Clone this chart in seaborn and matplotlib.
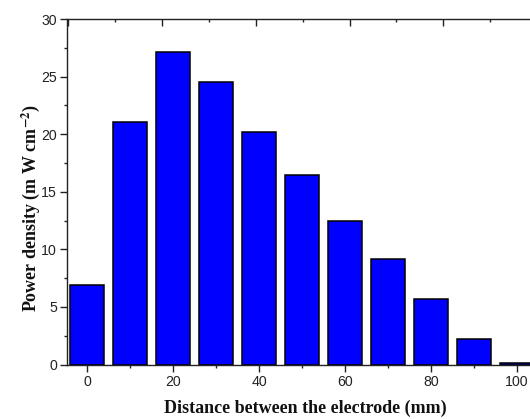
import matplotlib
matplotlib.use("Agg")
import matplotlib.pyplot as plt
from matplotlib.ticker import MultipleLocator
import seaborn as sns
import pandas as pd

# Power density measured at each electrode spacing
distance_mm = [0, 10, 20, 30, 40, 50, 60, 70, 80, 90, 100]
power_density = [6.9, 21.1, 27.1, 24.5, 20.2, 16.5, 12.5, 9.2, 5.7, 2.2, 0.15]

df = pd.DataFrame({"distance": distance_mm, "power": power_density})

sns.set_theme(style="ticks")
plt.rcParams["font.family"] = ["Liberation Sans", "DejaVu Sans"]
plt.rcParams["mathtext.fontset"] = "stix"

fig = plt.figure(figsize=(5.30, 4.19), dpi=100)
ax = fig.add_axes([0.1258, 0.1300, 0.890, 0.8246])

sns.barplot(data=df, x="distance", y="power", native_scale=True,
            color="#0000ff", saturation=1, edgecolor="black",
            linewidth=1.1, width=0.8, ax=ax)

ax.set_xlim(-4.8, 105)
ax.set_ylim(0, 30)

ax.xaxis.set_major_locator(MultipleLocator(20))
ax.xaxis.set_minor_locator(MultipleLocator(10))
ax.yaxis.set_major_locator(MultipleLocator(5))
ax.yaxis.set_minor_locator(MultipleLocator(2.5))

ax.tick_params(axis="both", which="major", direction="out", length=4.8,
               width=1.0, labelsize=10.2, color="#222222", labelcolor="#222222")
ax.tick_params(axis="both", which="minor", direction="out", length=2.4,
               width=1.0, color="#222222")
ax.tick_params(axis="x", pad=2.6)
ax.tick_params(axis="y", pad=2.2)

for side in ["left", "bottom", "top"]:
    ax.spines[side].set_linewidth(1.0)
    ax.spines[side].set_color("#222222")
ax.spines["right"].set_visible(False)

# unlabeled inward ticks along the top frame
top = ax.twiny()
top.set_xlim(-0.02, 10.02)
top.xaxis.set_major_locator(MultipleLocator(2))
top.xaxis.set_minor_locator(MultipleLocator(1))
top.tick_params(axis="x", which="major", direction="in", length=4.8, width=1.0,
                labeltop=False, color="#222222")
top.tick_params(axis="x", which="minor", direction="in", length=2.4, width=1.0,
                color="#222222")
for s in top.spines.values():
    s.set_visible(False)

label_font = dict(family=["Liberation Serif", "DejaVu Serif"],
                  fontweight="bold", fontsize=13, color="#111111")
ax.set_xlabel("Distance between the electrode (mm)", va="center", **label_font)
ax.set_ylabel("Power density (m W cm$^{\\mathbf{-2}}$)", va="center", **label_font)
ax.xaxis.set_label_coords(0.505, -0.126)
ax.yaxis.set_label_coords(-0.0757, 0.452)

fig.savefig("out.png", dpi=100)
